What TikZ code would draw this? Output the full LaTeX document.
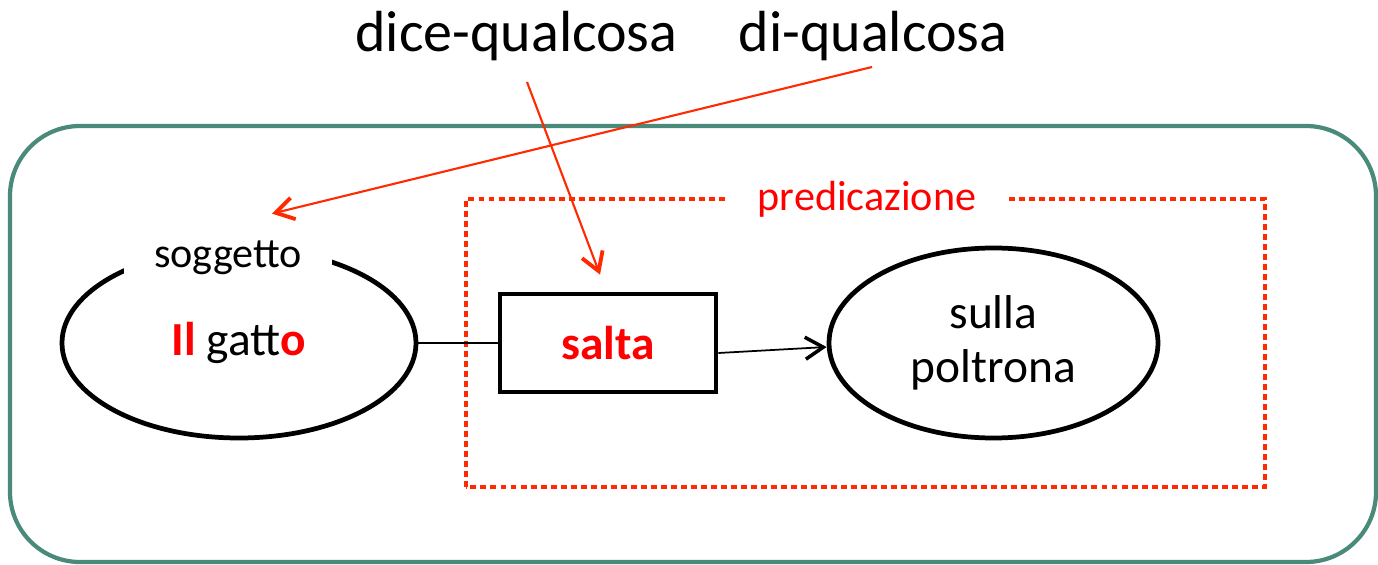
\documentclass[tikz,border=0pt]{standalone}
\usepackage{fontspec}
\setmainfont{Carlito}
\usetikzlibrary{shapes.geometric,arrows.meta}
\definecolor{framegreen}{HTML}{4A8A7A}
\definecolor{textred}{HTML}{FF0000}
\definecolor{linkred}{HTML}{FF2A00}
\begin{document}
\begin{tikzpicture}[
  blob/.style={draw, ellipse, line width=2.7pt, inner sep=0pt, minimum height=3.8cm, font=\fontsize{27}{31}\selectfont, align=center},
  verb/.style={draw, rectangle, line width=2.7pt, minimum width=4.32cm, minimum height=1.96cm, font=\fontsize{27}{31}\selectfont\bfseries, text=textred},
  tag/.style={fill=white, inner xsep=0.6cm, inner ysep=4pt, font=\fontsize{24}{29}\selectfont},
  word/.style={anchor=base, inner sep=0pt, font=\fontsize{33}{40}\selectfont},
  link/.style={draw=linkred, line width=1.2pt, -{Straight Barb[length=3.6mm,width=4.4mm,line width=2.2pt]}},
  flow/.style={line width=1pt, -{Straight Barb[length=3.6mm,width=4.4mm,line width=2pt]}}
]
\useasboundingbox (0,0) rectangle (27.56,11.28);

\draw [framegreen, line width=2.4pt, rounded corners=1.4cm] (0.2,0.04) rectangle (27.52,8.76);

\draw [linkred, line width=2.4pt, dash pattern=on 3.4pt off 2.3pt] (9.32,1.54) rectangle (25.3,7.30);
\node [tag, text=textred] (pred) at (17.34,7.30) {predicazione};

\node [blob, minimum width=7.08cm] (gatto) at (4.78,4.42) {{\bfseries\color{textred}Il} gatt{\bfseries\color{textred}o}};
\node [tag] (sog) at ([xshift=-0.22cm,yshift=-0.24cm]gatto.north) {soggetto};
\node [verb] (salta) at (12.16,4.42) {salta};
\node [blob, minimum width=6.58cm] (poltrona) at (19.87,4.42) {sulla\\poltrona};

\draw [line width=1pt] (gatto.east) -- (salta.west);
\draw [flow] ([yshift=-0.2cm]salta.east) -- ([yshift=-0.08cm]poltrona.west);

\foreach \nm/\x/\txt in {dice/10.33/dice-qualcosa, di/17.46/di-qualcosa} \node [word] (\nm) at (\x,10.24) {\txt};

\draw [link] ([shift={(0.21,-0.6)}]dice.base) -- ([shift={(-0.16,0.34)}]salta.north);
\draw [link] ([shift={(-0.02,-0.3)}]di.base) -- ([shift={(0.88,0.88)}]sog.center); %arrow points at the subject label

\end{tikzpicture}
\end{document}
